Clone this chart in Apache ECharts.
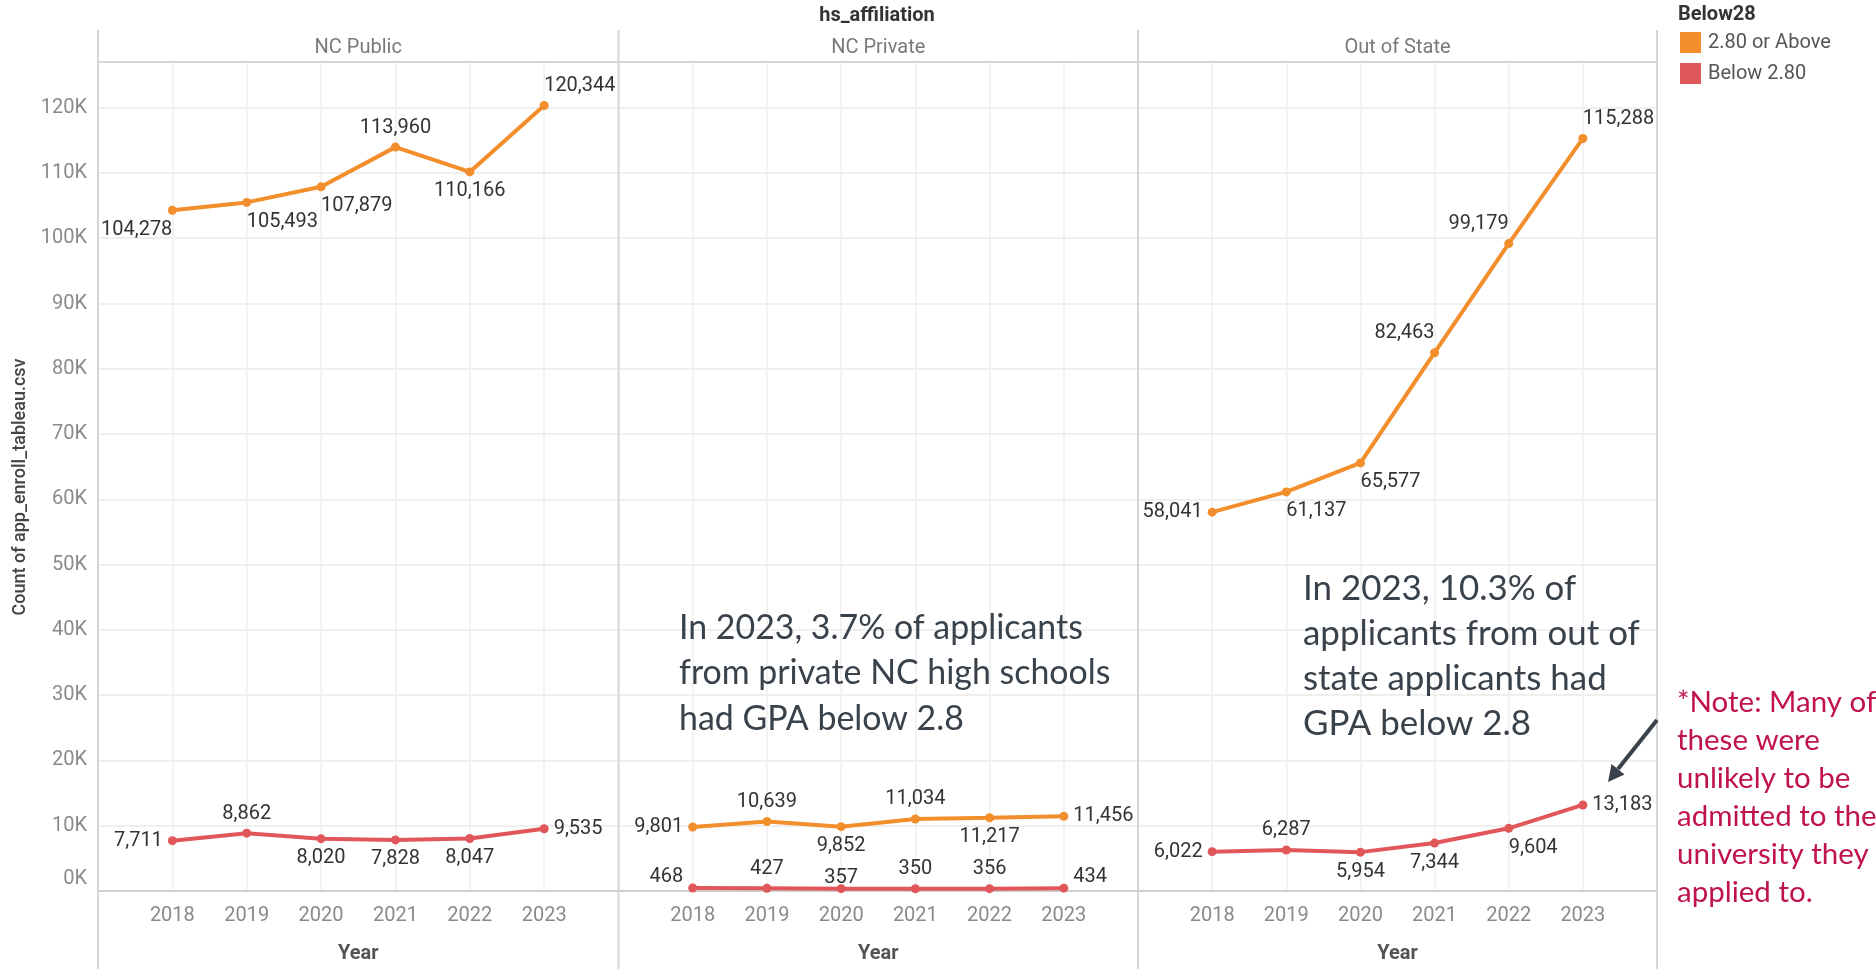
<!DOCTYPE html>
<html>
<head>
<meta charset="utf-8">
<script src="https://cdn.jsdelivr.net/npm/echarts@6/dist/echarts.min.js"></script>
<style>
html,body{margin:0;padding:0;background:#fff;}
#chart{width:1876px;height:969px;}
</style>
</head>
<body>
<div id="chart"></div>
<script>
// ---- data ----
const years = [2018, 2019, 2020, 2021, 2022, 2023];
const panels = ['NC Public', 'NC Private', 'Out of State'];
const groupNames = ['2.80 or Above', 'Below 2.80'];

const publicAbove  = [104278, 105493, 107879, 113960, 110166, 120344];
const publicBelow  = [7711, 8862, 8020, 7828, 8047, 9535];
const privateAbove = [9801, 10639, 9852, 11034, 11217, 11456];
const privateBelow = [468, 427, 357, 350, 356, 434];
const outAbove     = [58041, 61137, 65577, 82463, 99179, 115288];
const outBelow     = [6022, 6287, 5954, 7344, 9604, 13183];

// label placement codes (presentation only)
const publicAboveLbl  = ['Bl', 'Br', 'Br', 'T', 'B', 'Tr'];
const publicBelowLbl  = ['L', 'T', 'B', 'B', 'B', 'R'];
const privateAboveLbl = ['L', 'T', 'B', 'T', 'B', 'R'];
const privateBelowLbl = ['Lu', 'T', 'Td', 'T', 'T', 'Ru'];
const outAboveLbl     = ['L', 'Br', 'Br', 'Tl', 'Tl', 'Tr'];
const outBelowLbl     = ['L', 'T', 'B', 'B', 'Br', 'R'];

const annoPrivate = ['In 2023, 3.7% of applicants', 'from private NC high schools', 'had GPA below 2.8'];
const annoOut = ['In 2023, 10.3% of', 'applicants from out of', 'state applicants had', 'GPA below 2.8'];
const annoNote = ['*Note: Many of', 'these were', 'unlikely to be', 'admitted to the', 'university they', 'applied to.'];

// ---- styles ----
const ORANGE = '#F28E2B', RED = '#E15759';
const FONT = 'Roboto';
const ANNO_FONT = 'Lato';
const yMax = 127000;

function fitSize(text, target, family) {
  const c = document.createElement('canvas').getContext('2d');
  c.font = '100px ' + family;
  return 100 * target / c.measureText(text).width;
}

function labelFor(code) {
  const l = { show: true };
  switch (code) {
    case 'T': l.position = 'top'; break;
    case 'B': l.position = 'bottom'; break;
    case 'L': l.position = 'left'; break;
    case 'R': l.position = 'right'; break;
    case 'Bl': l.position = 'bottom'; l.align = 'right'; break;
    case 'Br': l.position = 'bottom'; l.align = 'left'; break;
    case 'Tl': l.position = 'top'; l.align = 'right'; break;
    case 'Tr': l.position = 'top'; l.align = 'left'; break;
    case 'Lu': l.position = 'left'; l.offset = [0, -11]; break;
    case 'Ru': l.position = 'right'; l.offset = [0, -11]; break;
    case 'Td': l.position = 'top'; l.offset = [0, 9]; break;
  }
  return l;
}

const seriesValues = [[publicAbove, publicBelow], [privateAbove, privateBelow], [outAbove, outBelow]];
const seriesLabels = [[publicAboveLbl, publicBelowLbl], [privateAboveLbl, privateBelowLbl], [outAboveLbl, outBelowLbl]];
const colors = [ORANGE, RED];

const W = 1876;
const panelX = [98, 618.5, 1138, 1657];
const gridTop = 62, axisY = 892;

const grids = [], xAxes = [], yAxes = [], series = [];
for (let p = 0; p < 3; p++) {
  grids.push({ left: panelX[p], width: panelX[p + 1] - panelX[p], top: gridTop, height: axisY - gridTop, containLabel: false });
  xAxes.push({
    type: 'value', gridIndex: p, min: 2017, max: 2024, interval: 1,
    axisLine: { show: true, onZero: false, lineStyle: { color: '#cfcfcf', width: 2 } },
    axisTick: { show: false },
    splitLine: { show: true, lineStyle: { color: '#efefef', width: 1.5 } },
    axisLabel: {
      margin: 15, fontFamily: FONT, fontSize: 20, color: '#8a8a8a',
      formatter: v => (v >= years[0] && v <= years[years.length - 1]) ? String(v) : ''
    },
    name: 'Year', nameLocation: 'middle', nameGap: 53,
    nameTextStyle: { fontFamily: FONT, fontSize: 20, fontWeight: 'bold', color: '#555' }
  });
  yAxes.push({
    type: 'value', gridIndex: p, min: 0, max: yMax, interval: 10000,
    axisLine: { show: false },
    axisTick: { show: false },
    splitLine: { show: true, lineStyle: { color: '#efefef', width: 2 } },
    axisLabel: {
      show: p === 0, margin: 11, fontFamily: FONT, fontSize: 20, color: '#8a8a8a',
      formatter: v => (v % 10000 === 0) ? (v === 0 ? '{z|0K}' : (v / 1000) + 'K') : '',
      rich: { z: { fontFamily: FONT, fontSize: 20, color: '#8a8a8a', padding: [0, 0, 24, 0] } }
    }
  });
  for (let g = 0; g < 2; g++) {
    const vals = seriesValues[p][g], lbls = seriesLabels[p][g];
    series.push({
      type: 'line', name: groupNames[g], xAxisIndex: p, yAxisIndex: p,
      data: vals.map((v, i) => ({ value: [years[i], v], label: labelFor(lbls[i]) })),
      symbol: 'circle', symbolSize: 9,
      lineStyle: { color: colors[g], width: 4 },
      itemStyle: { color: colors[g] },
      label: {
        show: true, fontFamily: FONT, fontSize: 20, color: '#333', distance: 5,
        formatter: prm => prm.value[1].toLocaleString('en-US')
      },
      emphasis: { disabled: true },
      z: 3 - g, animation: false
    });
  }
}

const annoSize1 = fitSize(annoPrivate[0], 404, ANNO_FONT);
const annoSize2 = fitSize(annoOut[1], 337, ANNO_FONT);
const noteSize = fitSize(annoNote[1], 142.7, ANNO_FONT);

const graphics = [];
// panel borders
for (let i = 0; i < panelX.length; i++) {
  graphics.push({ type: 'line', shape: { x1: panelX[i], y1: 30, x2: panelX[i], y2: 969 }, style: { stroke: '#d6d6d6', lineWidth: 2 }, z: 10 });
}
graphics.push({ type: 'line', shape: { x1: panelX[0], y1: gridTop, x2: panelX[3], y2: gridTop }, style: { stroke: '#d6d6d6', lineWidth: 2 }, z: 10 });
// header texts
graphics.push({ type: 'text', x: 877, y: 16, style: { text: 'hs_affiliation', font: 'bold 20px ' + FONT, fill: '#333', textAlign: 'center', textVerticalAlign: 'middle' } });
for (let p = 0; p < 3; p++) {
  graphics.push({ type: 'text', x: (panelX[p] + panelX[p + 1]) / 2, y: 48, style: { text: panels[p], font: '20px ' + FONT, fill: '#7a7a7a', textAlign: 'center', textVerticalAlign: 'middle' } });
}
graphics.push({ type: 'text', x: 1678, y: 15, style: { text: 'Below28', font: 'bold 20px ' + FONT, fill: '#333', textAlign: 'left', textVerticalAlign: 'middle' } });
// y axis title
graphics.push({ type: 'text', x: 20, y: 487, rotation: Math.PI / 2, style: { text: 'Count of app_enroll_tableau.csv', font: '500 18px ' + FONT, fill: '#444', textAlign: 'center', textVerticalAlign: 'middle' } });
// annotations
graphics.push({ type: 'text', x: 679, y: 605, style: { text: annoPrivate.join('\n'), font: annoSize1.toFixed(1) + 'px ' + ANNO_FONT, lineHeight: 45.5, fill: '#39424b', textAlign: 'left', textVerticalAlign: 'top' }, z: 20 });
graphics.push({ type: 'text', x: 1303, y: 566.5, style: { text: annoOut.join('\n'), font: annoSize2.toFixed(1) + 'px ' + ANNO_FONT, lineHeight: 45, fill: '#39424b', textAlign: 'left', textVerticalAlign: 'top' }, z: 20 });
graphics.push({ type: 'text', x: 1677, y: 683.5, style: { text: annoNote.join('\n'), font: noteSize.toFixed(1) + 'px ' + ANNO_FONT, lineHeight: 38, fill: '#C0134E', textAlign: 'left', textVerticalAlign: 'top' }, z: 20 });
// arrow
graphics.push({ type: 'line', shape: { x1: 1657, y1: 720, x2: 1618, y2: 769 }, style: { stroke: '#39424b', lineWidth: 4 }, z: 20 });
graphics.push({ type: 'polygon', shape: { points: [[1608, 782], [1624.5, 774.5], [1611.5, 764]] }, style: { fill: '#39424b' }, z: 20 });

const chart = echarts.init(document.getElementById('chart'), null, { renderer: 'canvas' });
chart.setOption({
  backgroundColor: '#fff',
  animation: false,
  grid: grids,
  xAxis: xAxes,
  yAxis: yAxes,
  legend: {
    data: groupNames, orient: 'vertical', left: 1680, top: 32, padding: 0,
    icon: 'rect', itemWidth: 21, itemHeight: 21, itemGap: 10,
    textStyle: { fontFamily: FONT, fontSize: 20, color: '#555', padding: [0, 0, 0, 2] },
    selectedMode: false
  },
  series: series,
  graphic: graphics
});
</script>
</body>
</html>
